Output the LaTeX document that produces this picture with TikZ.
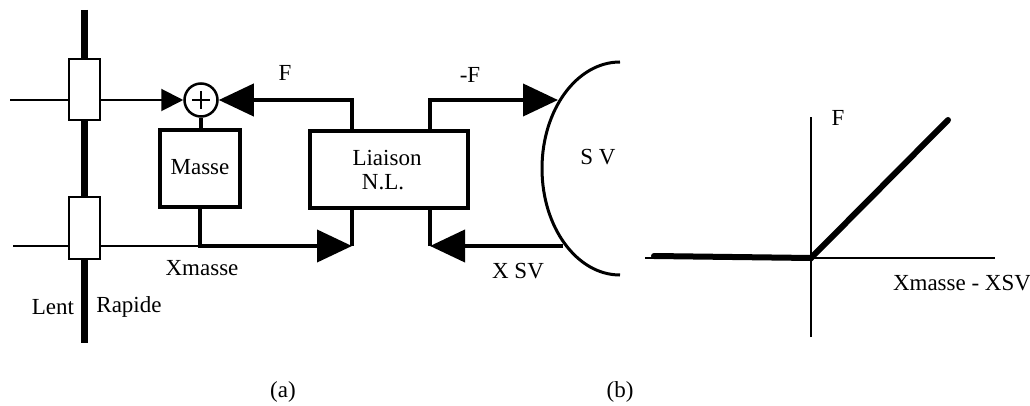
\documentclass[tikz,border=0pt]{standalone}
\usepackage{fontspec}
\setmainfont{Liberation Serif}
\usetikzlibrary{arrows.meta}
\begin{document}
\begin{tikzpicture}[x=1pt,y=-1pt,
  lbl/.style={inner sep=0pt,font=\fontsize{23}{26}\selectfont},
  blk/.style={draw,line width=4pt,fill=white,inner sep=0pt},
  slider/.style={draw,line width=2pt,fill=white,minimum width=31pt,minimum height=61pt,inner sep=0pt},
  thin/.style={line width=2pt},
  thk/.style={line width=4pt},
  bigtip/.style={-{Triangle[length=35pt,width=32pt]}},
  smalltip/.style={-{Triangle[length=22pt,width=22pt]}}
]
\useasboundingbox (0,0) rectangle (1030,406);
% rail
\coordinate (railtop) at (84,10);
\coordinate (railbot) at (84,343);
\draw[line width=7pt] (railtop) -- (railbot);
% inputs
\coordinate (in1) at (10,100);
\coordinate (in2) at (13,246);
\coordinate (j2) at (200,246);
\node[circle,draw,line width=2.5pt,minimum size=33pt,inner sep=0pt] (sum) at (201,100) {};
\draw[line width=2pt] (sum.center) ++(0,-9) -- ++(0,18) ++(-9,-9) -- ++(18,0);
\draw[thin,smalltip] (in1) -- (sum.west);
\draw[thin] (in2) -- (j2);
\node[slider] (r1) at (84,90) {};
\node[slider] (r2) at (84,228) {};
% blocks
\node[blk,minimum width=80pt,minimum height=77pt] (masse) at (200,168.5) {};
\node[lbl] at (200,167) {Masse};
\node[blk,minimum width=158pt,minimum height=77pt] (liaison) at (389,169.5) {};
\node[lbl] at (387,158) {Liaison};
\node[lbl] at (383,182) {N.L.};
% SV arc
\coordinate (svtop) at (620,62);
\draw[line width=3pt] (svtop) arc[start angle=270,end angle=90,x radius=78,y radius=106.5] coordinate (svbot);
\node[lbl] (sv) at (598,157) {S V};
% connectors
\draw[thk] (sum.south) -- (sum.south |- masse.north);
\coordinate (fcorner) at (352,100);
\draw[thk,bigtip] (liaison.north -| fcorner) -- (fcorner) -- (sum.east);
\coordinate (xcorner) at (352,246);
\draw[thk,bigtip] (masse.south) -- (j2) -- (xcorner);
\draw[thk] (xcorner) -- (liaison.south -| xcorner);
\coordinate (mfcorner) at (430,100);
\coordinate (svin) at (558,100);
\draw[thk,bigtip] (liaison.north -| mfcorner) -- (mfcorner) -- (svin);
\coordinate (svout) at (563,246);
\coordinate (xsvcorner) at (430,246);
\draw[thk,bigtip] (svout) -- (xsvcorner);
\draw[thk] (xsvcorner) -- (liaison.south -| xsvcorner);
% labels
\node[lbl] at (285,73) {F};
\node[lbl] at (470,75) {-F};
\node[lbl] at (518,271) {X SV};
\node[lbl] at (202,268) {Xmasse};
\node[lbl] at (53,307) {Lent};
\node[lbl] at (129,307) {Rapide};
\node[lbl] at (283,392) {(a)};
\node[lbl] at (620,392) {(b)};
% graph (b)
\coordinate (o) at (811,258);
\coordinate (ytop) at (811,117);
\coordinate (ybot) at (811,337);
\coordinate (xl) at (645,258);
\coordinate (xr) at (995,258);
\draw[thin] (ybot) -- (ytop);
\draw[thin] (xl) -- (xr);
\coordinate (cl) at (654,256);
\coordinate (cr) at (948,120);
\draw[line width=6pt,line cap=round] (cl) -- (o) -- (cr);
\node[lbl] at (838,118) {F};
\node[lbl] at (962,283) {Xmasse - XSV};
\end{tikzpicture}
\end{document}
